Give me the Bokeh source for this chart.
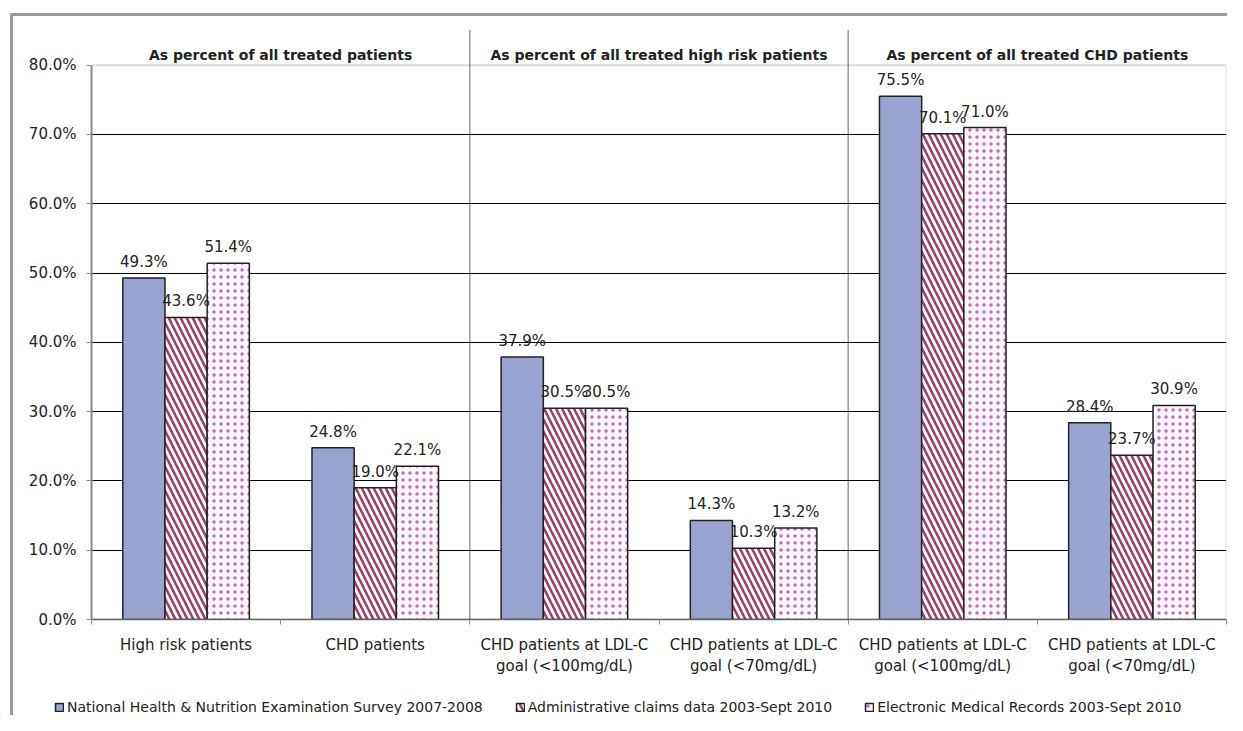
from bokeh.plotting import figure
from bokeh.models import (ColumnDataSource, FixedTicker, PrintfTickFormatter, Label,
                          LabelSet, Arrow, Legend, LegendItem, Range1d, BoxAnnotation)
from bokeh.transform import dodge
from bokeh.core.properties import value
from bokeh.embed import file_html
from bokeh.resources import INLINE

categories = [
    "High risk patients",
    "CHD patients",
    "CHD patients at LDL-C\ngoal (<100mg/dL)",
    "CHD patients at LDL-C\ngoal (<70mg/dL)",
    "CHD patients at LDL-C\ngoal (<100mg/dL)",
    "CHD patients at LDL-C\ngoal (<70mg/dL)",
]
nhanes = [49.3, 24.8, 37.9, 14.3, 75.5, 28.4]
claims = [43.6, 19.0, 30.5, 10.3, 70.1, 23.7]
emr = [51.4, 22.1, 30.5, 13.2, 71.0, 30.9]
series_names = [
    "National Health & Nutrition Examination Survey 2007-2008",
    "Administrative claims data 2003-Sept 2010",
    "Electronic Medical Records 2003-Sept 2010",
]
section_titles = [
    "As percent of all treated patients",
    "As percent of all treated high risk patients",
    "As percent of all treated CHD patients",
]
y_ticks = [0, 10, 20, 30, 40, 50, 60, 70, 80]

FONT = "DejaVu Sans"
TXT = "#222222"
GRAY = "#8c8c8c"

# layout (pixels)
FIG_W = 1227
H1, H2 = 678, 37
LEFT, BOTTOM = 91, 56
PLOT_TOP = 65                     # pixel row of the 80% line
frame_h = H1 - BOTTOM
Y_MAX = y_ticks[-1]
Y_END = Y_MAX * frame_h / (frame_h - PLOT_TOP)   # frame extends above the plot box

centers = [i + 0.5 for i in range(len(categories))]
src = ColumnDataSource(dict(
    x=centers,
    nhanes=nhanes, claims=claims, emr=emr,
    nhanes_lbl=[f"{v:.1f}%" for v in nhanes],
    claims_lbl=[f"{v:.1f}%" for v in claims],
    emr_lbl=[f"{v:.1f}%" for v in emr],
))

border_css = ("linear-gradient(#999999,#999999) 10px 13px / 3px 100% no-repeat, "
              "linear-gradient(#999999,#999999) 10px 13px / 100% 3px no-repeat, white")
border_css2 = "linear-gradient(#999999,#999999) 10px 0px / 3px 100% no-repeat, white"

p = figure(width=FIG_W, height=H1, output_backend="svg", toolbar_location=None,
           x_range=Range1d(0, len(categories)), y_range=Range1d(0, Y_END),
           min_border_left=LEFT, min_border_right=1, min_border_top=0,
           min_border_bottom=BOTTOM, styles={"background": border_css})
p.outline_line_color = None
p.background_fill_color = None
p.border_fill_color = None

# axes
p.yaxis.ticker = FixedTicker(ticks=y_ticks)
p.yaxis.bounds = (0, Y_MAX)
p.yaxis.formatter = PrintfTickFormatter(format="%.1f%%")
p.yaxis.axis_line_color = GRAY
p.yaxis.axis_line_width = 2
p.yaxis.major_tick_line_color = GRAY
p.yaxis.major_tick_out = 5
p.yaxis.major_tick_in = 0
p.yaxis.minor_tick_line_color = None
p.yaxis.major_label_text_font = FONT
p.yaxis.major_label_text_font_size = "15px"
p.yaxis.major_label_text_color = TXT
p.yaxis.major_label_standoff = 10

p.xaxis.ticker = FixedTicker(ticks=centers, minor_ticks=list(range(len(categories) + 1)))
p.xaxis.major_label_overrides = {c: lab for c, lab in zip(centers, categories)}
p.xaxis.axis_line_color = "#666666"
p.xaxis.axis_line_width = 1.5
p.xaxis.major_tick_line_color = None
p.xaxis.minor_tick_line_color = GRAY
p.xaxis.minor_tick_out = 5
p.xaxis.minor_tick_in = 0
p.xaxis.major_label_text_font = FONT
p.xaxis.major_label_text_font_size = "15px"
p.xaxis.major_label_text_color = TXT
p.xaxis.major_label_standoff = 10

p.xgrid.visible = False
p.ygrid.ticker = FixedTicker(ticks=y_ticks[1:-1])
p.ygrid.grid_line_color = "black"
p.ygrid.grid_line_width = 1

# plot-area box (0..80)
p.add_layout(BoxAnnotation(left=0, right=len(categories), bottom=0, top=Y_MAX,
                           fill_color=None, line_color=GRAY, line_width=2, level="underlay"))

W = 0.223
bar_styles = [
    dict(fill_color="#98A3D0", line_color="#222222", line_width=1.5),
    dict(fill_color="white", line_color="#222222", line_width=1.5,
         hatch_pattern="\\", hatch_color="#9E3A64", hatch_weight=2.5, hatch_scale=12),
    dict(fill_color="#fcf8fc", line_color="#222222", line_width=1.5,
         hatch_pattern=".", hatch_color="#B03AAA", hatch_alpha=0.75,
         hatch_weight=0.5, hatch_scale=7),
]
offsets = [-W, 0, W]
fields = ["nhanes", "claims", "emr"]

for off, field, st in zip(offsets, fields, bar_styles):
    p.vbar(x=dodge("x", off, range=p.x_range), top=field, width=W, source=src, **st)
    p.add_layout(LabelSet(x=dodge("x", off, range=p.x_range), y=field, text=field + "_lbl",
                          source=src, text_align="center", text_baseline="alphabetic",
                          y_offset=11, text_font=value(FONT), text_font_size="15px",
                          text_color=TXT))

# section titles and separators
for i, t in enumerate(section_titles):
    p.add_layout(Label(x=2 * i + 1, y=Y_MAX, text=t, text_align="center",
                       text_baseline="alphabetic", y_offset=10, text_font=FONT,
                       text_font_size="14px", text_font_style="bold", text_color=TXT))
for xs in [2, 4]:
    p.add_layout(Arrow(end=None, x_start=xs, y_start=85, x_end=xs, y_end=0,
                       line_color="black", line_width=1.2, line_dash="1 1"))

# legend strip (separate root so its frame starts at the left edge)
p2 = figure(width=FIG_W, height=H2, output_backend="svg", toolbar_location=None,
            x_range=Range1d(0, 1), y_range=Range1d(0, 1),
            x_axis_location=None, y_axis_location=None,
            min_border_left=0, min_border_right=0, min_border_top=0, min_border_bottom=0,
            styles={"background": border_css2})
p2.outline_line_color = None
p2.background_fill_color = None
p2.border_fill_color = None
p2.grid.visible = False
proxy_src = ColumnDataSource(dict(x=[-1.0], top=[0.0]))   # off-screen legend proxies
proxies = [p2.vbar(x="x", top="top", width=0.1, source=proxy_src, **st) for st in bar_styles]

legend = Legend(items=[LegendItem(label=n, renderers=[r]) for n, r in zip(series_names, proxies)],
                orientation="horizontal", location=(54, 0))
legend.border_line_color = None
legend.background_fill_alpha = 0
legend.glyph_width = 10
legend.glyph_height = 10
legend.label_height = 16
legend.label_text_font = FONT
legend.label_text_font_size = "14px"
legend.label_text_color = TXT
legend.label_standoff = 3
legend.spacing = 32
legend.padding = 0
legend.margin = 0
p2.add_layout(legend)

open("out.html", "w").write(file_html([p, p2], INLINE))
